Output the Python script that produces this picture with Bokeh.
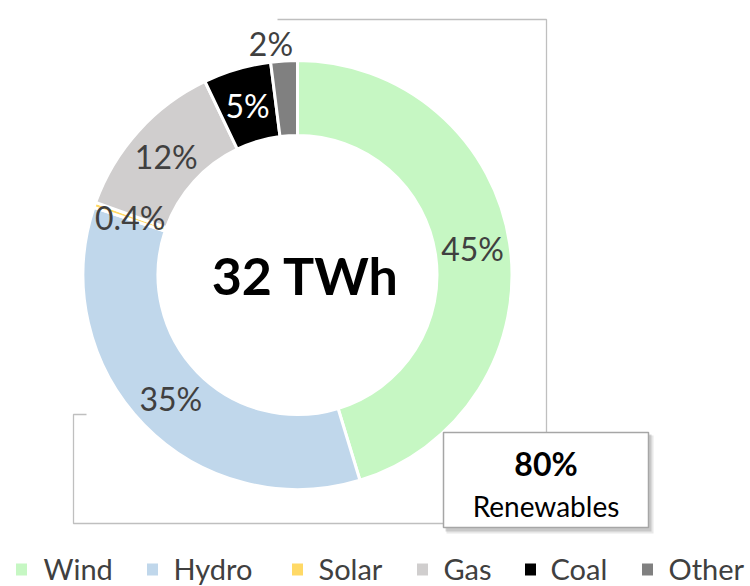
import numpy as np
from bokeh.plotting import figure
from bokeh.models import Range1d, ColumnDataSource
from bokeh.core.properties import value
from bokeh.embed import file_html
from bokeh.resources import INLINE

# ---- data ----
categories = ["Wind", "Hydro", "Solar", "Gas", "Coal", "Other"]
shares = [45.3, 34.8, 0.4, 12.4, 5.1, 2.0]
labels = ["45%", "35%", "0.4%", "12%", "5%", "2%"]
colors = ["#C6F7C3", "#C0D7EB", "#FFD966", "#D0CECE", "#000000", "#808080"]
label_colors = ["#404040", "#404040", "#404040", "#404040", "#FFFFFF", "#404040"]
total_label = "32 TWh"
renew_value = "80%"
renew_text = "Renewables"

FONT = "Lato"
W, H = 750, 586


def py(y):
    """page y -> data y"""
    return H - y


p = figure(width=W, height=H, x_range=Range1d(0, W), y_range=Range1d(0, H),
           output_backend="svg", toolbar_location=None, min_border=0, title=None)
p.axis.visible = False
p.grid.visible = False
p.outline_line_color = None
p.background_fill_color = "white"
p.border_fill_color = "white"

# ---- donut ----
cx, cy = 297, py(274.5)
r_in, r_out = 141, 213
vals = np.array(shares, dtype=float)
frac = vals / vals.sum()
cum_end = np.cumsum(frac)
cum_start = cum_end - frac
start_angle = np.pi / 2 - 2 * np.pi * cum_end
end_angle = np.pi / 2 - 2 * np.pi * cum_start

src = ColumnDataSource(dict(cat=categories, color=colors, sa=start_angle, ea=end_angle))
p.annular_wedge(x=cx, y=cy, inner_radius=r_in - 1.5, outer_radius=r_out + 1.5,
                start_angle="sa", end_angle="ea", fill_color="color",
                line_color="white", line_width=3, source=src)

# labels
mid = (cum_start + cum_end) / 2
theta = np.pi / 2 - 2 * np.pi * mid
outside = np.array([False, False, False, False, False, True])
r_lab = np.where(outside, 232, (r_in + r_out) / 2)
lx = cx + r_lab * np.cos(theta)
ly = cy + r_lab * np.sin(theta)
xoff = np.where(outside, -12, 0)
lsrc = ColumnDataSource(dict(x=lx, y=ly, t=labels, c=label_colors, xo=xoff))
p.text(x="x", y="y", text="t", text_color="c", x_offset="xo", source=lsrc,
       text_font=value(FONT), text_font_size="32px", text_align="center",
       text_baseline="middle")

# center total
p.text(x=[cx], y=[cy], text=[total_label], x_offset=8, text_font=value(FONT),
       text_font_size="52px", text_font_style="bold", text_color="black",
       text_align="center", text_baseline="middle")

# ---- bracket lines ----
bracket_color = "#BFBFBF"
p.line(x=[277, 546, 546], y=[py(19), py(19), py(432)], line_color=bracket_color, line_width=1.3)
p.line(x=[86, 73, 73, 443], y=[py(414), py(414), py(523), py(523)],
       line_color=bracket_color, line_width=1.3)

# ---- renewables box ----
bx0, bx1, by0, by1 = 443, 648, 432, 527
p.quad(left=bx0 + 3, right=bx1 + 5, top=py(by0 + 3), bottom=py(by1 + 6),
       fill_color="#7F7F7F", fill_alpha=0.18, line_color=None)
p.quad(left=bx0 + 2, right=bx1 + 3, top=py(by0 + 2), bottom=py(by1 + 4),
       fill_color="#7F7F7F", fill_alpha=0.3, line_color=None)
p.quad(left=bx0, right=bx1, top=py(by0), bottom=py(by1),
       fill_color="white", line_color="#A6A6A6", line_width=1.5)
bxc = (bx0 + bx1) / 2
p.text(x=[bxc], y=[py(463)], text=[renew_value], text_font=value(FONT),
       text_font_size="32px", text_font_style="bold", text_color="black",
       text_align="center", text_baseline="middle")
p.text(x=[bxc], y=[py(505)], text=[renew_text], text_font=value(FONT),
       text_font_size="28px", text_color="black",
       text_align="center", text_baseline="middle")

# ---- legend ----
legend_sq_x = [21, 152, 297, 422, 530, 647]
legend_tx_x = [43, 173, 318, 443, 550, 668]
p.rect(x=legend_sq_x, y=[py(569)] * 6, width=11, height=12, fill_color=colors,
       line_color=None)
p.text(x=legend_tx_x, y=[py(568)] * 6, text=categories, text_font=value(FONT),
       text_font_size="29px", text_color="#404040", text_align="left",
       text_baseline="middle")

open("out.html", "w").write(file_html(p, INLINE))
